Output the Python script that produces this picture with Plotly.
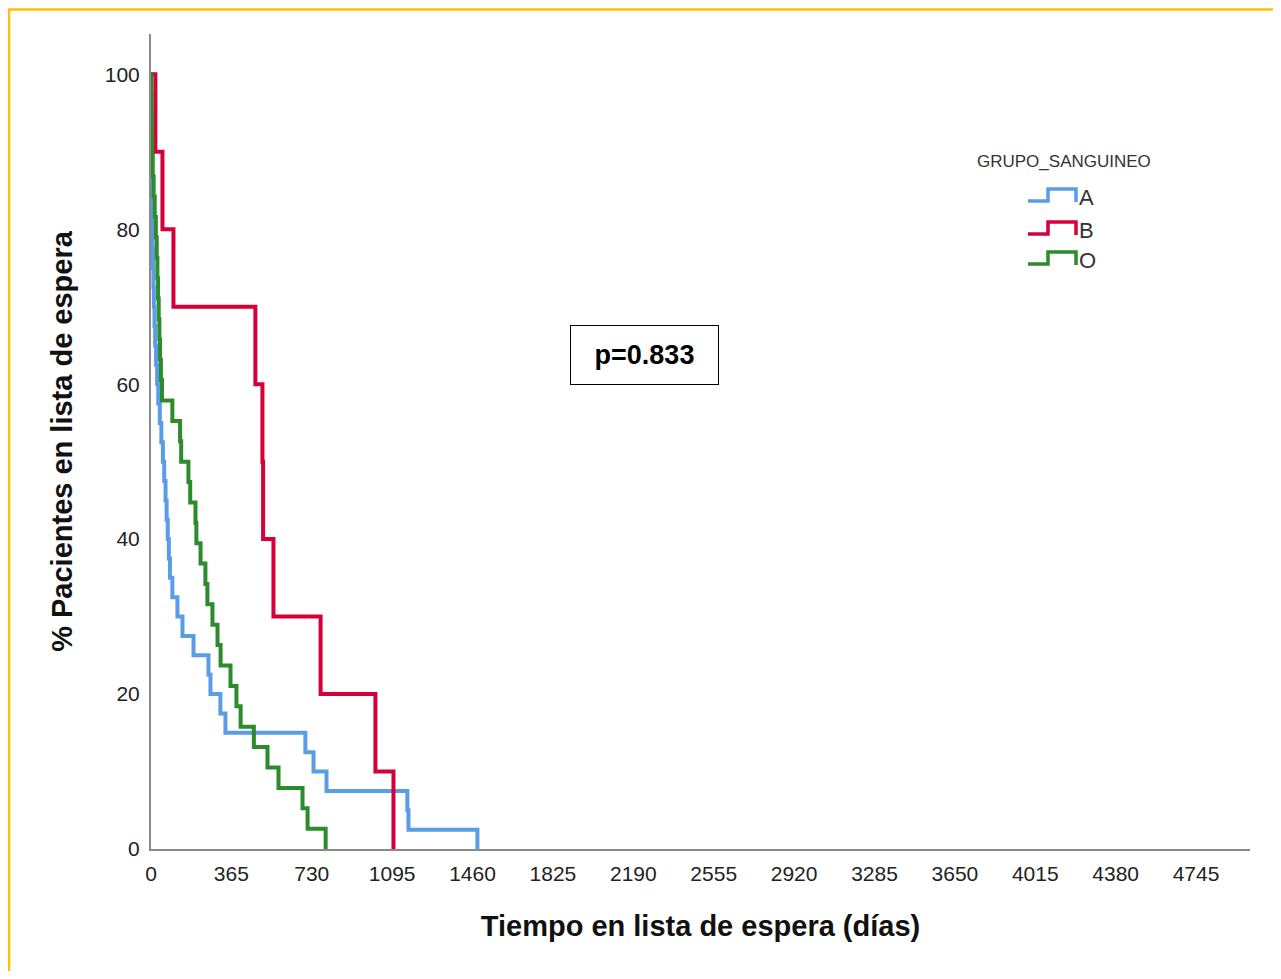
import plotly.graph_objects as go

# ---------------- data ----------------
group_names = ["A", "B", "O"]
group_colors = ["#5B9CE6", "#D50037", "#2C8C2C"]

a_days = [1, 1, 2, 2, 3, 3, 4, 5, 7, 9, 11, 13, 16, 19, 23, 28, 33, 40, 47, 54,
          60, 66, 71, 76, 81, 86, 97, 120, 143, 193, 261, 270, 315, 338, 701,
          738, 797, 1164, 1169, 1482]
a_surv = [97.5, 95, 92.5, 90, 87.5, 85, 82.5, 80, 77.5, 75, 72.5, 70, 67.5, 65,
          62.5, 60, 57.5, 55, 52.5, 50, 47.5, 45, 42.5, 40, 37.5, 35, 32.5, 30,
          27.5, 25, 22.5, 20, 17.5, 15, 12.5, 10, 7.5, 5, 2.5, 0]

b_days = [20, 52, 102, 474, 506, 509, 556, 770, 1019, 1101]
b_surv = [90, 80, 70, 60, 50, 40, 30, 20, 10, 0]

o_days = [1, 2, 3, 5, 8, 12, 17, 22, 26, 29, 32, 35, 38, 41, 45, 50, 97, 132,
          137, 170, 178, 202, 206, 225, 247, 256, 279, 302, 316, 361, 388, 407,
          467, 529, 579, 688, 711, 793]
o_surv = [97.37, 94.74, 92.11, 89.47, 86.84, 84.21, 81.58, 78.95, 76.32, 73.68,
          71.05, 68.42, 65.79, 63.16, 60.53, 57.89, 55.26, 52.63, 50.0, 47.37,
          44.74, 42.11, 39.47, 36.84, 34.21, 31.58, 28.95, 26.32, 23.68, 21.05,
          18.42, 15.79, 13.16, 10.53, 7.89, 5.26, 2.63, 0.0]

x_ticks = [0, 365, 730, 1095, 1460, 1825, 2190, 2555, 2920, 3285, 3650, 4015, 4380, 4745]
y_ticks = [0, 20, 40, 60, 80, 100]

p_text = "p=0.833"
legend_title = "GRUPO_SANGUINEO"
x_title = "Tiempo en lista de espera (días)"
y_title = "% Pacientes en lista de espera"

# ---------------- layout geometry ----------------
W, H = 1265, 963
L, R, T, B = 143, 23, 26, 122
PW = W - L - R
PH = H - T - B


def px(x):
    return (x - L) / PW


def py(y):
    return 1 - (y - T) / PH


FONT = "Liberation Sans, Arial, sans-serif"

fig = go.Figure()
series = [(a_days, a_surv), (b_days, b_surv), (o_days, o_surv)]
for name, color, (d, s) in zip(group_names, group_colors, series):
    fig.add_trace(go.Scatter(
        x=[0] + d, y=[100] + s, mode="lines", name=name,
        line=dict(color=color, width=4, shape="hv"),
        showlegend=False,
    ))

shapes = []
annotations = []

# yellow frame (top and left edges visible)
shapes.append(dict(type="line", xref="paper", yref="paper",
                   x0=px(0), x1=px(W + 20), y0=py(1.5), y1=py(1.5),
                   line=dict(color="#FFC000", width=2.5)))
shapes.append(dict(type="line", xref="paper", yref="paper",
                   x0=px(1), x1=px(1), y0=py(1.5), y1=py(H + 20),
                   line=dict(color="#FFC000", width=2.5)))

# custom legend with step icons
annotations.append(dict(text=legend_title, xref="paper", yref="paper",
                        x=px(967), y=py(153), xanchor="left", yanchor="middle",
                        showarrow=False, font=dict(family=FONT, size=17, color="#333")))
row_y = [190, 223, 253]
for name, color, cy in zip(group_names, group_colors, row_y):
    path = "M {},{} L {},{} L {},{} L {},{} L {},{}".format(
        px(1020), py(cy + 3), px(1040), py(cy + 3), px(1040), py(cy - 9),
        px(1068), py(cy - 9), px(1068), py(cy + 4))
    shapes.append(dict(type="path", xref="paper", yref="paper", path=path,
                       line=dict(color=color, width=3.5)))
    annotations.append(dict(text=name, xref="paper", yref="paper",
                            x=px(1069), y=py(cy), xanchor="left", yanchor="middle",
                            showarrow=False, font=dict(family=FONT, size=22, color="#333")))

# p-value box
annotations.append(dict(text="<b>" + p_text + "</b>", xref="paper", yref="paper",
                        x=px(636.5), y=py(347), xanchor="center", yanchor="middle",
                        showarrow=False, width=147, height=58,
                        bordercolor="#000", borderwidth=1, borderpad=0,
                        bgcolor="white",
                        font=dict(family=FONT, size=27, color="#000")))

fig.update_layout(
    width=W, height=H, autosize=False,
    margin=dict(l=L, r=R, t=T, b=B, pad=0),
    paper_bgcolor="white", plot_bgcolor="white",
    shapes=shapes, annotations=annotations,
    showlegend=False,
    font=dict(family=FONT, color="#222"),
)
fig.update_xaxes(
    range=[0, 4990], tickvals=x_ticks, ticktext=[str(v) for v in x_ticks],
    showgrid=False, zeroline=False, showline=True, linecolor="#8a8a8a", linewidth=2,
    ticks="outside", ticklen=5, tickcolor="rgba(0,0,0,0)",
    tickfont=dict(family=FONT, size=21, color="#222"),
    title=dict(text="<b>" + x_title + "</b>", standoff=31,
               font=dict(family=FONT, size=29, color="#111")),
)
fig.update_yaxes(
    range=[0, 105.2], tickvals=y_ticks, ticktext=[str(v) for v in y_ticks],
    showgrid=False, zeroline=False, showline=True, linecolor="#8a8a8a", linewidth=2,
    ticks="outside", ticklen=5, tickcolor="rgba(0,0,0,0)",
    tickfont=dict(family=FONT, size=21, color="#222"),
    title=dict(text="<b>" + y_title + "</b>", standoff=24,
               font=dict(family=FONT, size=29, color="#111")),
)

fig.write_html("out.html")
